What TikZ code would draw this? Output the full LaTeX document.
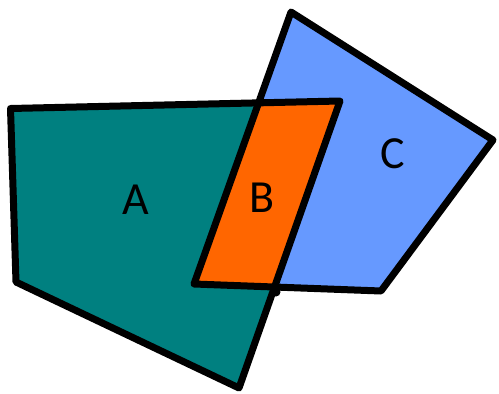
\documentclass[tikz,border=0pt]{standalone}
\usepackage{fontspec}
\setmainfont{Carlito}
\definecolor{tealA}{RGB}{0,128,128}
\definecolor{blueC}{RGB}{102,153,255}
\definecolor{orangeB}{RGB}{255,102,0}
\begin{document}
\begin{tikzpicture}[x=1pt,y=-1pt,
  outline/.style={draw=black,line width=7pt,line join=round},
  lbl/.style={font=\fontsize{46}{50}\selectfont,text=black,inner sep=0pt}]
\useasboundingbox (0,0) rectangle (499,394);
\def\shapeA{(10.5,108.5) -- (340,101) -- (239,388) -- (16,282) -- cycle}
\def\shapeC{(291,12) -- (493,140) -- (381,291) -- (194,284) -- cycle}
\fill[tealA] \shapeA;
\fill[blueC] \shapeC;
\begin{scope}
  \clip \shapeA;
  \fill[orangeB] \shapeC;
\end{scope}
\draw[outline] \shapeA;
\draw[outline] \shapeC;
\fill[black] (276,292) circle (4.5);
\node[lbl] (a) at (136,200) {A};
\node[lbl] (b) at (262,198) {B};
\node[lbl] (c) at (393,154) {C};
\end{tikzpicture}
\end{document}
